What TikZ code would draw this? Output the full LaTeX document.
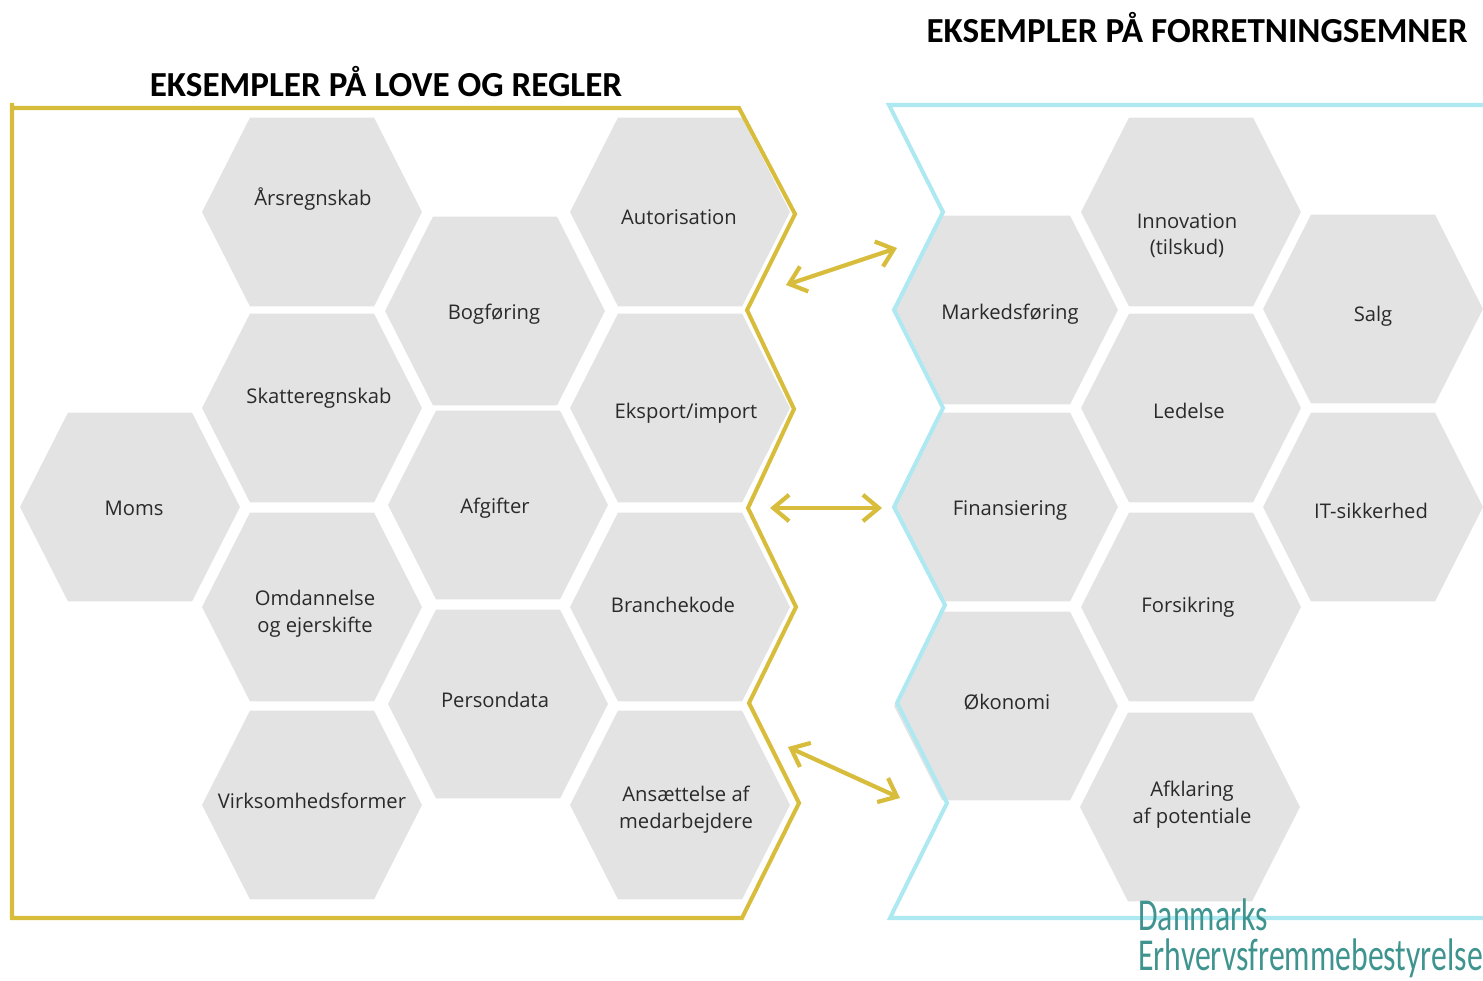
\documentclass[tikz,border=0pt]{standalone}
\usepackage{fontspec}
\setmainfont{Open Sans}
\newfontfamily\headfont{Carlito}
\newfontfamily\logofont[FakeStretch=0.695]{Carlito}
\usetikzlibrary{arrows.meta}
\definecolor{lovgul}{HTML}{D8BC3C}
\definecolor{emneblaa}{HTML}{AEE9F2}
\definecolor{hexgraa}{HTML}{E3E3E3}
\definecolor{logoteal}{HTML}{3F9490}
\definecolor{tekstgraa}{HTML}{2A2A2A}
\tikzset{
  hexa/.style={minimum width=4.4cm, minimum height=3.78cm, inner sep=0pt, outer sep=0pt,
    path picture={\fill[hexgraa] (path picture bounding box.west) -- ([xshift=0.96cm]path picture bounding box.north west) -- ([xshift=-0.96cm]path picture bounding box.north east) -- (path picture bounding box.east) -- ([xshift=-0.96cm]path picture bounding box.south east) -- ([xshift=0.96cm]path picture bounding box.south west) -- cycle;}},
  hextxt/.style={font=\fontsize{11.5}{15.2}\selectfont, text=tekstgraa, align=center, inner sep=0pt, yshift=-1pt},
  headtxt/.style={font=\headfont\bfseries\fontsize{20}{24}\selectfont, text=black, inner sep=0pt},
  pil/.style={line width=2.4pt, lovgul, {Straight Barb[length=9pt,width=15pt]}-{Straight Barb[length=9pt,width=15pt]}},
  logotxt/.style={anchor=base west, inner sep=0pt, text=logoteal, align=left, font=\logofont\fontsize{26}{22.7}\selectfont},
}
\begin{document}
\begin{tikzpicture}[x=0.02cm,y=-0.02cm]
\useasboundingbox (0,0) rectangle (1483,980);
\node[hexa] (lov0) at (130,507){};
\node[hextxt] (lovtxt0) at (134,507){Moms};
\node[hexa] (lov1) at (312,212){};
\node[hextxt] (lovtxt1) at (313,197){Årsregnskab};
\node[hexa] (lov2) at (312,408){};
\node[hextxt] (lovtxt2) at (319,396){Skatteregnskab};
\node[hexa] (lov3) at (312,607){};
\node[hextxt] (lovtxt3) at (315,612){Omdannelse\\og ejerskifte};
\node[hexa] (lov4) at (312,805){};
\node[hextxt] (lovtxt4) at (312,799){Virksomhedsformer};
\node[hexa] (lov5) at (495,311){};
\node[hextxt] (lovtxt5) at (494,312){Bogføring};
\node[hexa] (lov6) at (498,505){};
\node[hextxt] (lovtxt6) at (495,506){Afgifter};
\node[hexa] (lov7) at (498,704){};
\node[hextxt] (lovtxt7) at (495,698){Persondata};
\node[hexa] (lov8) at (680,212){};
\node[hextxt] (lovtxt8) at (679,215){Autorisation};
\node[hexa] (lov9) at (680,408){};
\node[hextxt] (lovtxt9) at (686,411){Eksport/import};
\node[hexa] (lov10) at (680,607){};
\node[hextxt] (lovtxt10) at (673,603){Branchekode};
\node[hexa] (lov11) at (680,805){};
\node[hextxt] (lovtxt11) at (686,808){Ansættelse af\\medarbejdere};
\node[hexa, minimum width=4.48cm] (emne0) at (1006,310){};
\node[hextxt] (emnetxt0) at (1010,312){Markedsføring};
\node[hexa, minimum width=4.48cm] (emne1) at (1006,507){};
\node[hextxt] (emnetxt1) at (1010,509){Finansiering};
\node[hexa, minimum width=4.48cm] (emne2) at (1006,706){};
\node[hextxt] (emnetxt2) at (1007,700){Økonomi};
\node[hexa] (emne3) at (1191,212){};
\node[hextxt] (emnetxt3) at (1187,234){Innovation\\(tilskud)};
\node[hexa] (emne4) at (1191,408){};
\node[hextxt] (emnetxt4) at (1189,409){Ledelse};
\node[hexa] (emne5) at (1191,607){};
\node[hextxt] (emnetxt5) at (1188,605){Forsikring};
\node[hexa] (emne6) at (1190,807){};
\node[hextxt] (emnetxt6) at (1192,803){Afklaring\\af potentiale};
\node[hexa] (emne7) at (1373,309){};
\node[hextxt] (emnetxt7) at (1373,314){Salg};
\node[hexa] (emne8) at (1373,507){};
\node[hextxt] (emnetxt8) at (1371,509){IT-sikkerhed};
% rammer
\draw[lovgul, line width=2.3pt] (12,103) -- (12,918) -- (742,918) -- (799,803) -- (749,703) -- (796,607) -- (748,508) -- (794,409) -- (747,310) -- (795,214) -- (739,108) -- (12,108);
\draw[emneblaa, line width=2.3pt] (1483,105) -- (889,105) -- (943,212) -- (894,310) -- (943,408) -- (894,507) -- (945,605) -- (897,703) -- (947,803) -- (890,918) -- (1483,918);
% overskrifter
\node[headtxt] (head0) at (386,82){EKSEMPLER PÅ LOVE OG REGLER};
\node[headtxt] (head1) at (1197,28){EKSEMPLER PÅ FORRETNINGSEMNER};
% pile
\coordinate (pil0a) at (786,285);
\coordinate (pil0b) at (897,248);
\coordinate (pil1a) at (770,508);
\coordinate (pil1b) at (882,508);
\coordinate (pil2a) at (788,747);
\coordinate (pil2b) at (900,798);
\draw[pil] (pil0a) -- (pil0b);
\draw[pil] (pil1a) -- (pil1b);
\draw[pil] (pil2a) -- (pil2b);
% logo
\node[logotxt] (logo0) at (1138,970){Danmarks\\Erhvervsfremmebestyrelse};
\end{tikzpicture}
\end{document}
